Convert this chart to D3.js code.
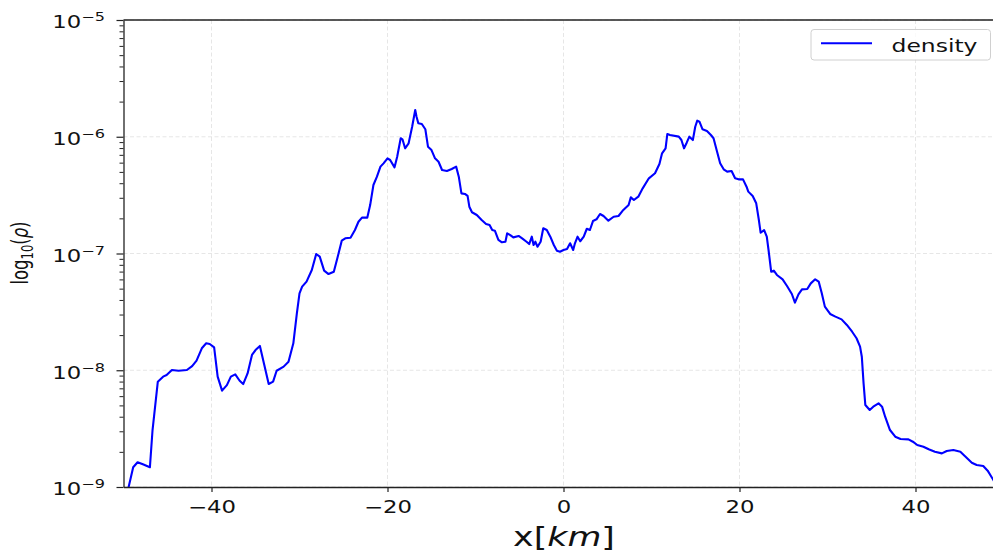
<!DOCTYPE html>
<html>
<head>
<meta charset="utf-8">
<script src="https://cdn.jsdelivr.net/npm/d3@7"></script>
<style>
  html, body { margin: 0; padding: 0; background: #fff; }
  svg { display: block; font-family: "DejaVu Sans", sans-serif; }
</style>
</head>
<body>
<svg id="chart" width="993" height="552"></svg>
<script>
// ---- data ----
const xTicks = [-40, -20, 0, 20, 40];
const xTickLabels = ["\u221240", "\u221220", "0", "20", "40"];
const yTickExponents = [-9, -8, -7, -6, -5];
const yTickLabels = ["\u22129", "\u22128", "\u22127", "\u22126", "\u22125"];
const seriesName = "density";

const xKm = [
  -49.6, -48.9, -48.4, -47.8, -47.0, -46.7, -46.1, -45.5, -45.1, -44.5,
  -43.75, -42.8, -42.2, -41.7, -41.1, -40.6, -40.2, -39.7, -39.3, -38.8,
  -38.25, -37.8, -37.3, -36.8, -36.4, -35.9, -35.4, -35.0, -34.5, -34.0,
  -33.5, -33.0, -32.6, -31.8, -31.25, -30.7, -30.3, -30.0, -29.7, -29.2,
  -28.6, -28.1, -27.7, -27.2, -26.7, -26.1, -25.7, -25.2, -24.8, -24.2,
  -23.7, -23.3, -22.9, -22.3, -21.97, -21.6, -21.2, -20.8, -20.45, -20.0,
  -19.7, -19.2, -18.9, -18.5, -18.3, -18.0, -17.6, -17.2, -16.85, -16.7,
  -16.5, -16.1, -15.7, -15.4, -15.0, -14.6, -14.2, -13.8, -13.25, -12.7,
  -12.2, -11.9, -11.6, -11.2, -10.9, -10.7, -10.4, -9.85, -9.3, -8.8,
  -8.4, -8.1, -7.8, -7.4, -7.0, -6.6, -6.4, -6.05, -5.7, -5.1,
  -4.7, -4.2, -3.9, -3.6, -3.4, -3.2, -2.95, -2.6, -2.3, -1.9,
  -1.5, -1.1, -0.75, -0.4, 0.0, 0.4, 0.75, 1.1, 1.3, 1.6,
  1.9, 2.3, 2.65, 3.0, 3.35, 3.75, 4.15, 4.55, 5.1, 5.7,
  6.25, 6.8, 7.4, 7.65, 8.0, 8.5, 9.0, 9.7, 10.4, 10.9,
  11.2, 11.6, 11.8, 12.1, 13.1, 13.4, 13.7, 14.0, 14.3, 14.7,
  14.97, 15.2, 15.45, 15.8, 16.3, 16.75, 17.05, 17.4, 17.8, 18.2,
  18.6, 19.1, 19.5, 19.9, 20.4, 20.8, 21.0, 21.5, 21.9, 22.2,
  22.4, 22.8, 23.1, 23.3, 23.6, 23.9, 24.25, 24.9, 25.4, 25.95,
  26.3, 26.7, 27.1, 27.7, 28.1, 28.6, 29.0, 29.35, 29.7, 30.3,
  30.9, 31.6, 32.2, 32.8, 33.3, 33.7, 33.9, 34.1, 34.3, 34.8,
  35.2, 35.8, 36.2, 36.55, 37.1, 37.7, 38.3, 39.2, 39.7, 40.2,
  40.9, 41.5, 42.2, 43.0, 43.55, 44.3, 45.1, 45.6, 46.4, 46.95,
  47.7, 48.2, 48.8, 49.5
];

// log10 of the density
const log10Rho = [
  -9.06, -8.831, -8.788, -8.806, -8.831, -8.512, -8.098, -8.055, -8.041, -7.998,
  -8.004, -7.998, -7.964, -7.918, -7.812, -7.769, -7.775, -7.804, -8.055, -8.175,
  -8.127, -8.055, -8.035, -8.090, -8.118, -8.027, -7.869, -7.827, -7.792, -7.955,
  -8.118, -8.098, -8.004, -7.969, -7.927, -7.769, -7.512, -7.341, -7.284, -7.241,
  -7.141, -7.004, -7.027, -7.147, -7.176, -7.156, -7.041, -6.890, -6.870, -6.865,
  -6.799, -6.728, -6.693, -6.693, -6.585, -6.413, -6.342, -6.256, -6.228, -6.185,
  -6.199, -6.262, -6.171, -6.013, -6.022, -6.099, -6.056, -5.914, -5.771, -5.828,
  -5.885, -5.891, -5.936, -6.085, -6.114, -6.185, -6.214, -6.285, -6.293, -6.276,
  -6.256, -6.342, -6.485, -6.490, -6.507, -6.599, -6.647, -6.670, -6.713, -6.747,
  -6.756, -6.799, -6.805, -6.884, -6.904, -6.899, -6.827, -6.842, -6.862, -6.850,
  -6.870, -6.899, -6.919, -6.856, -6.927, -6.899, -6.942, -6.899, -6.784, -6.799,
  -6.856, -6.927, -6.976, -6.985, -6.970, -6.962, -6.912, -6.970, -6.913, -6.856,
  -6.895, -6.856, -6.788, -6.799, -6.722, -6.707, -6.662, -6.679, -6.719, -6.685,
  -6.679, -6.627, -6.585, -6.519, -6.542, -6.513, -6.442, -6.356, -6.313, -6.233,
  -6.142, -6.099, -5.976, -5.985, -5.999, -6.028, -6.099, -6.051, -5.999, -6.028,
  -5.914, -5.862, -5.871, -5.936, -5.951, -5.985, -6.013, -6.113, -6.227, -6.279,
  -6.299, -6.293, -6.356, -6.365, -6.365, -6.428, -6.470, -6.508, -6.570, -6.713,
  -6.822, -6.799, -6.856, -6.970, -7.156, -7.147, -7.184, -7.221, -7.278, -7.347,
  -7.421, -7.350, -7.307, -7.304, -7.256, -7.221, -7.241, -7.341, -7.455, -7.518,
  -7.541, -7.564, -7.612, -7.670, -7.726, -7.798, -7.884, -8.112, -8.298, -8.340,
  -8.312, -8.283, -8.312, -8.398, -8.512, -8.569, -8.589, -8.592, -8.612, -8.640,
  -8.655, -8.677, -8.698, -8.712, -8.692, -8.683, -8.698, -8.734, -8.792, -8.811,
  -8.820, -8.860, -8.934, -9.02
];

// ---- layout ----
const SX = 1.34;          // horizontal stretch of the original picture's text
const plotLeft = 123.5, plotRight = 1003.5, plotTop = 20, plotBottom = 487;

const svg = d3.select("#chart");
const x = d3.scaleLinear().domain([-50, 50]).range([plotLeft, plotRight]);
const y = d3.scaleLog().domain([1e-9, 1e-5]).range([plotBottom, plotTop]);

const data = xKm.map((v, i) => ({ x: v, rho: Math.pow(10, log10Rho[i]) }));

svg.append("defs").append("clipPath").attr("id", "clip")
  .append("rect").attr("x", plotLeft).attr("y", plotTop)
  .attr("width", plotRight - plotLeft).attr("height", plotBottom - plotTop);

// grid
const grid = svg.append("g").attr("stroke", "#e3e3e3").attr("stroke-width", 0.9)
  .attr("stroke-dasharray", "4,2.5");
grid.selectAll("line.gx").data(xTicks).join("line")
  .attr("x1", d => x(d)).attr("x2", d => x(d))
  .attr("y1", plotTop).attr("y2", plotBottom);
grid.selectAll("line.gy").data(yTickExponents.map(e => Math.pow(10, e))).join("line")
  .attr("x1", plotLeft).attr("x2", plotRight)
  .attr("y1", d => y(d)).attr("y2", d => y(d));

// data line
svg.append("path").datum(data)
  .attr("clip-path", "url(#clip)")
  .attr("fill", "none").attr("stroke", "#0000ff").attr("stroke-width", 2.1)
  .attr("stroke-linejoin", "round")
  .attr("d", d3.line().x(d => x(d.x)).y(d => y(d.rho)));

// x axis
const xAxis = svg.append("g").attr("transform", `translate(0,${plotBottom})`)
  .call(d3.axisBottom(x).tickValues(xTicks).tickSize(5).tickSizeOuter(0)
    .tickFormat((d, i) => xTickLabels[i]));
xAxis.select(".domain").attr("stroke", "#222").attr("stroke-width", 1.3);
xAxis.selectAll(".tick line").attr("stroke", "#222").attr("stroke-width", 1.2);
xAxis.selectAll(".tick text")
  .attr("y", 26).attr("dy", 0)
  .attr("font-size", 17).attr("font-family", "DejaVu Sans").attr("fill", "#111")
  .attr("transform", `scale(${SX},1)`);

// y axis (major)
const yMajor = yTickExponents.map(e => Math.pow(10, e));
const yAxis = svg.append("g").attr("transform", `translate(${plotLeft},0)`)
  .call(d3.axisLeft(y).tickValues(yMajor).tickSize(7).tickSizeOuter(0).tickFormat(""));
yAxis.select(".domain").attr("stroke", "#222").attr("stroke-width", 1.3);
yAxis.selectAll(".tick line").attr("stroke", "#222").attr("stroke-width", 1.2);

// y axis minor ticks
const yMinor = [];
for (let e = -9; e < -5; e++) for (let m = 2; m <= 9; m++) yMinor.push(m * Math.pow(10, e));
const yMin = svg.append("g").attr("transform", `translate(${plotLeft},0)`)
  .call(d3.axisLeft(y).tickValues(yMinor).tickSize(4).tickSizeOuter(0).tickFormat(""));
yMin.select(".domain").remove();
yMin.selectAll(".tick line").attr("stroke", "#222").attr("stroke-width", 1);

// y tick labels 10^e
const yl = svg.append("g").attr("font-family", "DejaVu Sans").attr("fill", "#111");
yTickExponents.forEach((e, i) => {
  const t = yl.append("text")
    .attr("text-anchor", "end")
    .attr("transform", `translate(105,${y(Math.pow(10, e)) + 8.3}) scale(${SX},1)`)
    .attr("font-size", 17);
  t.append("tspan").text("10");
  t.append("tspan").attr("font-size", 12).attr("dy", -7).text(yTickLabels[i]);
});

// top spine
svg.append("line").attr("x1", plotLeft).attr("x2", plotRight)
  .attr("y1", plotTop).attr("y2", plotTop)
  .attr("stroke", "#222").attr("stroke-width", 1.3);

// axis labels
const xl = svg.append("text")
  .attr("text-anchor", "middle")
  .attr("transform", `translate(564,546) scale(${SX},1)`)
  .attr("font-size", 26).attr("font-family", "DejaVu Sans").attr("fill", "#111");
xl.append("tspan").text("x[");
xl.append("tspan").attr("font-style", "italic").text("km");
xl.append("tspan").text("]");

const ylab = svg.append("text")
  .attr("text-anchor", "middle")
  .attr("transform", `translate(28,253) scale(${SX},1) rotate(-90)`)
  .attr("font-size", 16.5).attr("font-family", "DejaVu Sans").attr("fill", "#111");
ylab.append("tspan").text("log");
ylab.append("tspan").attr("font-size", 11.5).attr("dy", 4).text("10");
ylab.append("tspan").attr("dy", -4).text("(");
ylab.append("tspan").attr("font-style", "italic").text("\u03c1");
ylab.append("tspan").text(")");

// legend
const lg = svg.append("g");
lg.append("rect").attr("x", 811).attr("y", 29.5).attr("width", 179.5).attr("height", 30.5)
  .attr("rx", 3).attr("fill", "#fff").attr("fill-opacity", 0.8)
  .attr("stroke", "#d0d0d0").attr("stroke-width", 1);
lg.append("line").attr("x1", 821).attr("x2", 872).attr("y1", 43.3).attr("y2", 43.3)
  .attr("stroke", "#0000ff").attr("stroke-width", 2.1);
lg.append("text").attr("transform", `translate(891.5,51.5) scale(${SX},1)`)
  .attr("font-size", 17.5).attr("font-family", "DejaVu Sans").attr("fill", "#111")
  .text(seriesName);
</script>
</body>
</html>
